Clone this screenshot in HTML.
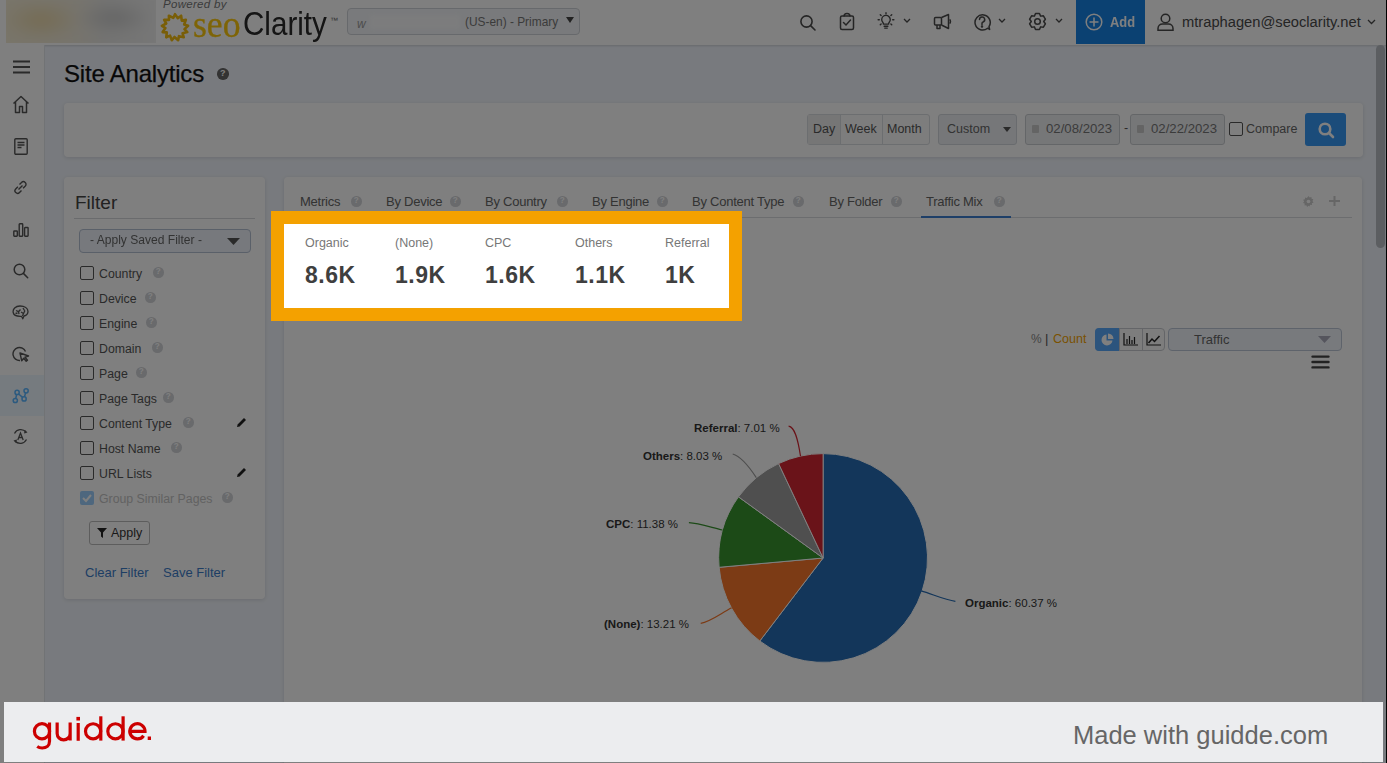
<!DOCTYPE html>
<html><head><meta charset="utf-8">
<style>
*{box-sizing:border-box;margin:0;padding:0}
html,body{width:1387px;height:763px;overflow:hidden;background:#f1f5fc;font-family:"Liberation Sans",sans-serif;position:relative}
.a{position:absolute}
.t{position:absolute;white-space:nowrap;line-height:1}
#hdr{left:0;top:0;width:1387px;height:45px;background:#fff;box-shadow:0 1px 2px rgba(0,0,0,.15)}
#side{left:0;top:45px;width:45px;height:718px;background:#fff;border-right:1px solid #e3e6ea}
.card{position:absolute;background:#fff;border-radius:4px;box-shadow:0 1px 4px rgba(0,0,0,.12)}
#ov{left:0;top:0;width:1387px;height:763px;background:rgba(0,0,0,.5)}
.hq{position:absolute;width:10px;height:10px;border-radius:50%;background:#c9cbcf;color:#fff;font-size:8px;font-weight:bold;text-align:center;line-height:10px}
.cb{position:absolute;width:14px;height:14px;border:1px solid #555;border-radius:2px;background:#fff}
.pl{font-size:11.5px;color:#333}
.fl{position:absolute;font-size:12.3px;color:#555;white-space:nowrap;line-height:1}
</style></head><body>
<!-- header -->
<div id="hdr" class="a"></div>
<div id="side" class="a"></div>

<div class="a" style="left:6px;top:0;width:150px;height:43px;overflow:hidden;background:#f4f4f2">
 <div class="a" style="left:-10px;top:-10px;width:170px;height:63px;filter:blur(6px);background:radial-gradient(ellipse 40px 20px at 45px 30px,#ead7a6,transparent),radial-gradient(ellipse 38px 16px at 118px 28px,#cacaca,transparent),linear-gradient(90deg,#f2ead2,#eee8d8 45%,#e6e6e4 65%,#efefef)"></div>
</div>
<!-- powered by / seoClarity -->
<div class="t" style="left:163px;top:-1px;font-size:11.5px;font-style:italic;color:#777;letter-spacing:.3px">Powered by</div>
<svg class="a" style="left:159px;top:11px" width="32" height="33" viewBox="0 0 32 33"><path d="M16.00,3.20 L18.83,7.23 L22.13,4.71 L22.77,9.60 L26.86,8.90 L25.16,13.52 L29.10,14.81 L25.45,18.11 L28.34,21.08 L23.57,22.30 L24.75,26.28 L19.96,25.14 L19.16,29.22 L15.44,25.98 L12.84,29.22 L11.05,24.63 L7.25,26.28 L7.80,21.39 L3.66,21.08 L6.42,17.00 L2.90,14.81 L7.24,12.48 L5.14,8.90 L10.06,8.86 L9.87,4.71 L14.25,6.96z" fill="none" stroke="#f2bc10" stroke-width="2.6" stroke-linejoin="round"/></svg>
<div class="t" style="left:193px;top:6px;font-size:37.5px;font-family:'Liberation Serif',serif;color:#fcc80c;-webkit-text-stroke:.3px #fcc80c;transform:scaleX(.95);transform-origin:0 0">seo</div>
<div class="t" style="left:243px;top:6px;font-size:34px;color:#2a2a2a;transform:scaleX(.87);transform-origin:0 0">Clarity</div>
<div class="t" style="left:330px;top:17px;font-size:8px;color:#666">&#8482;</div>
<!-- domain dropdown -->
<div class="a" style="left:347px;top:8px;width:233px;height:27px;border:1px solid #cfd3d8;border-radius:4px;background:#f3f5f8"></div>
<div class="t" style="left:357px;top:18px;font-size:12px;font-style:italic;color:#999">w</div>
<div class="a" style="left:370px;top:15px;width:90px;height:14px;background:#f8f9fb;filter:blur(2px)"></div>
<div class="t" style="left:465px;top:17px;font-size:11.9px;color:#777">(US-en) - Primary</div>
<svg class="a" style="left:566px;top:17px" width="8" height="6"><polygon points="0,0 8,0 4,6" fill="#444"/></svg>
<!-- header icons -->
<svg class="a" style="left:799px;top:14px" width="18" height="18" viewBox="0 0 18 18" fill="none" stroke="#4a4a4a" stroke-width="1.6"><circle cx="7.5" cy="7.5" r="5.6"/><path d="M11.6 11.6L16 16" stroke-linecap="round"/></svg>
<svg class="a" style="left:839px;top:12px" width="16" height="19" viewBox="0 0 16 19" fill="none" stroke="#4a4a4a" stroke-width="1.5"><rect x="1.5" y="4" width="13" height="13.5" rx="1.5"/><path d="M5 4.5c0-2 1.5-3 3-3s3 1 3 3" /><path d="M4.5 10.5l2.5 2.5 4.5-5" stroke-linecap="round"/></svg>
<svg class="a" style="left:877px;top:12px" width="18" height="18" viewBox="0 0 21 21" fill="none" stroke="#4a4a4a" stroke-width="1.6" stroke-linecap="round"><path d="M7.6 14.2c0-1.8-2.1-2.9-2.1-5.2a5 5 0 0 1 10 0c0 2.3-2.1 3.4-2.1 5.2z"/><path d="M8.3 16.6h4.4M9 18.8h3"/><path d="M10.5 .8v1.4M3.8 3.2l1 1M17.2 3.2l-1 1M1.3 9h1.4M18.3 9h1.4M3.8 15l1-1M17.2 15l-1-1"/></svg>
<svg class="a" style="left:903px;top:18px" width="8" height="6" viewBox="0 0 8 6" fill="none" stroke="#4a4a4a" stroke-width="1.3"><path d="M1 1l3 3 3-3"/></svg>
<svg class="a" style="left:933px;top:13px" width="21" height="18" viewBox="0 0 21 18" fill="none" stroke="#4a4a4a" stroke-width="1.5" stroke-linejoin="round"><rect x="1.5" y="4.5" width="7" height="7.5" rx="1"/><path d="M8.5 4.5L15.5 1.5v14L8.5 12"/><path d="M16.5 6.5c1.3.6 1.3 3.4 0 4"/><path d="M4 12v3.5h3V12"/></svg>
<svg class="a" style="left:973px;top:13px" width="19" height="18" viewBox="0 0 19 18" fill="none" stroke="#4a4a4a" stroke-width="1.5"><path d="M14.6 15.2A7.6 7.6 0 1 1 16 13.6L16.6 16.4z" stroke-linejoin="round"/><path d="M6.5 6.6a2.6 2.6 0 1 1 3.6 2.4c-.8.3-1.1.8-1.1 1.6v.8" stroke-linecap="round"/><circle cx="9" cy="13.6" r=".5" fill="#4a4a4a"/></svg>
<svg class="a" style="left:998px;top:18px" width="8" height="6" viewBox="0 0 8 6" fill="none" stroke="#4a4a4a" stroke-width="1.3"><path d="M1 1l3 3 3-3"/></svg>
<svg class="a" style="left:1028px;top:11.5px" width="19" height="19" viewBox="0 0 19 19" fill="none" stroke="#4a4a4a" stroke-width="1.5" stroke-linejoin="round"><path d="M6.40,4.13 L7.52,1.54 L11.48,1.54 L12.60,4.13 L15.40,3.80 L17.38,7.24 L15.70,9.50 L17.38,11.76 L15.40,15.20 L12.60,14.87 L11.48,17.46 L7.52,17.46 L6.40,14.87 L3.60,15.20 L1.62,11.76 L3.30,9.50 L1.62,7.24 L3.60,3.80z"/><circle cx="9.5" cy="9.5" r="2.8"/></svg>
<svg class="a" style="left:1055px;top:18px" width="8" height="6" viewBox="0 0 8 6" fill="none" stroke="#4a4a4a" stroke-width="1.3"><path d="M1 1l3 3 3-3"/></svg>
<div class="a" style="left:1076px;top:0;width:69px;height:44px;background:#1782e4"></div>
<svg class="a" style="left:1085px;top:13px" width="18" height="18" viewBox="0 0 18 18" fill="none" stroke="#fff" stroke-width="1.5"><circle cx="9" cy="9" r="7.8"/><path d="M9 4.5v9M4.5 9h9"/></svg>
<div class="t" style="left:1110px;top:15px;font-size:14px;font-weight:bold;color:#fff;transform:scaleX(.92);transform-origin:0 0">Add</div>
<svg class="a" style="left:1157px;top:13px" width="17" height="18" viewBox="0 0 17 18" fill="none" stroke="#4a4a4a" stroke-width="1.5"><circle cx="8.5" cy="5.5" r="4.3"/><path d="M1 17.2v-1.7c0-2.6 2-4.5 4.5-4.5h6c2.5 0 4.5 1.9 4.5 4.5v1.7z"/></svg>
<div class="t" style="left:1182px;top:14.5px;font-size:14.7px;color:#4a4a4a">mtraphagen@seoclarity.net</div>
<svg class="a" style="left:1367px;top:19px" width="9" height="6" viewBox="0 0 9 6" fill="none" stroke="#4a4a4a" stroke-width="1.3"><path d="M1 1l3.5 3.5L8 1"/></svg>


<!-- sidebar icons -->
<svg class="a" style="left:13px;top:60px" width="17" height="14" viewBox="0 0 17 14"><path d="M0 1.5h17M0 7h17M0 12.5h17" stroke="#555" stroke-width="2.2"/></svg>
<svg class="a" style="left:12px;top:95px" width="18" height="19" viewBox="0 0 18 19" fill="none" stroke="#555" stroke-width="1.5" stroke-linejoin="round"><path d="M1.5 8.5L9 1.5l7.5 7M3.5 7v10.5h4v-6h3v6h4V7"/></svg>
<svg class="a" style="left:14px;top:138px" width="14" height="17" viewBox="0 0 14 17" fill="none" stroke="#555" stroke-width="1.4"><rect x=".8" y=".8" width="12.4" height="15.4" rx="1"/><path d="M3.5 4.5h7M3.5 7h7M3.5 9.5h4"/></svg>
<svg class="a" style="left:13px;top:180px" width="15" height="15" viewBox="0 0 15 15" fill="none" stroke="#555" stroke-width="1.4"><path d="M6.5 4.5l2-2a2.5 2.5 0 0 1 3.8 3.6l-2.2 2.2M8.5 10.5l-2 2a2.5 2.5 0 0 1-3.8-3.6l2.2-2.2M5.5 9.5l4-4"/></svg>
<svg class="a" style="left:13px;top:223px" width="16" height="14" viewBox="0 0 16 14" fill="none" stroke="#555" stroke-width="1.4"><rect x=".8" y="8" width="3.5" height="5.2" rx=".6"/><rect x="6.2" y=".8" width="3.5" height="12.4" rx=".6"/><rect x="11.6" y="4.5" width="3.5" height="8.7" rx=".6"/></svg>
<svg class="a" style="left:13px;top:263px" width="16" height="16" viewBox="0 0 16 16" fill="none" stroke="#555" stroke-width="1.5"><circle cx="6.5" cy="6.5" r="5.3"/><path d="M10.4 10.4l4.3 4.3" stroke-linecap="round"/></svg>
<svg class="a" style="left:12px;top:305px" width="17" height="15" viewBox="0 0 17 15" fill="none" stroke="#555" stroke-width="1.3" stroke-linejoin="round"><path d="M1.2 7.5C.5 4 3.5 1 8 1s8 2 8 5.5c0 2.5-2 4-4 4.5l-1.2 2.8-1.3-2.5C6 11.5 1.8 10.5 1.2 7.5z"/><path d="M4 5.5l2.5 1.2L8.5 4.5M6.5 6.7l.5 2.5M9 7l2.5 1.5 1.5-3M11.5 8.5l-1 2.5M3.5 8.5l2-.5M11 3l1.5 2.5"/></svg>
<svg class="a" style="left:12px;top:346px" width="18" height="17" viewBox="0 0 18 17" fill="none" stroke="#555" stroke-width="1.4"><path d="M13.5 5.5A6.5 6.5 0 1 0 8 14.5"/><path d="M8 7l8.5 3-3.5 1.2 2.5 3-1.3 1.1-2.5-3-2 2.5z" stroke-linejoin="round"/></svg>
<div class="a" style="left:0;top:375px;width:44px;height:41px;background:#ecf6ff"></div>
<svg class="a" style="left:11px;top:387px" width="20" height="17" viewBox="11 387 20 17" fill="none" stroke="#58b4ff" stroke-width="1.5"><circle cx="15.3" cy="400.5" r="2.1"/><circle cx="17.1" cy="392.4" r="2.1"/><circle cx="24.1" cy="398.9" r="2.1"/><circle cx="26.1" cy="390.8" r="2.1"/><path d="M15.8 398.4l.8-3.9M18.6 394l4 3.3M24.5 396.8l1.1-3.9"/></svg>
<svg class="a" style="left:12px;top:428px" width="17" height="17" viewBox="0 0 17 17" fill="none" stroke="#555" stroke-width="1.3"><path d="M2.5 5.5A7 7 0 0 1 14 4M14.5 11.5A7 7 0 0 1 3 13"/><path d="M12.5 2.5l1.8 1.7-2.2.8M4.5 14.5l-1.8-1.7 2.2-.8"/><path d="M5.8 12l2.7-7 2.7 7M6.8 9.5h3.4"/></svg>

<!-- title -->
<div class="t" style="left:64px;top:62px;font-size:24px;letter-spacing:-.2px;-webkit-text-stroke:.25px #111;color:#111">Site Analytics</div><div class="hq" style="left:217px;top:68px;width:11.5px;height:11.5px;line-height:11.5px;font-size:9.0px;background:#666">?</div>

<!-- toolbar card -->
<div class="card" style="left:64px;top:103px;width:1299px;height:54px"></div>
<!-- toolbar -->
<div class="a" style="left:807px;top:114px;width:123px;height:31px;border:1px solid #d9dce0;border-radius:3px;background:#fafafa"></div><div class="a" style="left:808px;top:115px;width:32px;height:29px;background:#ececec"></div>
<div class="a" style="left:840px;top:114px;width:1px;height:31px;background:#d9dce0"></div>
<div class="a" style="left:882px;top:114px;width:1px;height:31px;background:#d9dce0"></div>
<div class="t" style="left:813px;top:123px;font-size:12.5px;color:#555">Day</div>
<div class="t" style="left:845px;top:123px;font-size:12.5px;color:#555">Week</div>
<div class="t" style="left:887px;top:123px;font-size:12.5px;color:#555">Month</div>
<div class="a" style="left:938px;top:114px;width:79px;height:31px;border:1px solid #d3d7dc;border-radius:3px;background:#eceff3"></div>
<div class="t" style="left:947px;top:123px;font-size:12.5px;color:#666">Custom</div>
<svg class="a" style="left:1003px;top:127px" width="8" height="5"><polygon points="0,0 8,0 4,5" fill="#555"/></svg>
<div class="a" style="left:1025px;top:114px;width:95px;height:31px;border:1px solid #c9ccd1;border-radius:3px;background:#eceef1"></div>
<div class="a" style="left:1032px;top:125px;width:7px;height:8px;border-radius:1px;background:#c8c8c8"></div>
<div class="t" style="left:1046px;top:122px;font-size:13.2px;color:#777">02/08/2023</div>
<div class="t" style="left:1124px;top:122px;font-size:12.5px;color:#555">-</div>
<div class="a" style="left:1130px;top:114px;width:95px;height:31px;border:1px solid #c9ccd1;border-radius:3px;background:#eceef1"></div>
<div class="a" style="left:1137px;top:125px;width:7px;height:8px;border-radius:1px;background:#c8c8c8"></div>
<div class="t" style="left:1151px;top:122px;font-size:13.2px;color:#777">02/22/2023</div>
<div class="a" style="left:1229px;top:122px;width:14px;height:14px;border:1px solid #555;border-radius:2px;background:#fff"></div>
<div class="t" style="left:1246px;top:123px;font-size:12.5px;color:#666">Compare</div>
<div class="a" style="left:1305px;top:113px;width:41px;height:33px;border-radius:3px;background:#3698f4"></div>
<svg class="a" style="left:1317px;top:121px" width="18" height="18" viewBox="0 0 18 18" fill="none" stroke="#fff" stroke-width="2.6"><circle cx="8" cy="8" r="5.3"/><path d="M12 12l4 4" stroke-linecap="round"/></svg>


<!-- filter card -->
<div class="card" style="left:64px;top:177px;width:201px;height:422px"></div>
<!-- filter -->
<div class="t" style="left:75px;top:193px;font-size:19px;color:#444">Filter</div>
<div class="a" style="left:74px;top:218px;width:181px;height:1px;background:#d4d6da"></div>
<div class="a" style="left:79px;top:229px;width:172px;height:24px;border:1px solid #b4c0d2;border-radius:4px;background:#eef3fb"></div>
<div class="t" style="left:90px;top:234px;font-size:12.5px;color:#666;transform:scaleX(.965);transform-origin:0 0">- Apply Saved Filter -</div>
<svg class="a" style="left:227px;top:238px" width="13" height="7"><polygon points="0,0 13,0 6.5,7" fill="#555"/></svg>
<div class="cb" style="left:80px;top:266px"></div><div class="fl" style="left:99px;top:268px">Country</div><div class="hq" style="left:153px;top:267px;width:10.5px;height:10.5px;line-height:10.5px;font-size:8.2px;background:#d2d4d8">?</div>
<div class="cb" style="left:80px;top:291px"></div><div class="fl" style="left:99px;top:293px">Device</div><div class="hq" style="left:145px;top:292px;width:10.5px;height:10.5px;line-height:10.5px;font-size:8.2px;background:#d2d4d8">?</div>
<div class="cb" style="left:80px;top:316px"></div><div class="fl" style="left:99px;top:318px">Engine</div><div class="hq" style="left:146px;top:317px;width:10.5px;height:10.5px;line-height:10.5px;font-size:8.2px;background:#d2d4d8">?</div>
<div class="cb" style="left:80px;top:341px"></div><div class="fl" style="left:99px;top:343px">Domain</div><div class="hq" style="left:152px;top:342px;width:10.5px;height:10.5px;line-height:10.5px;font-size:8.2px;background:#d2d4d8">?</div>
<div class="cb" style="left:80px;top:366px"></div><div class="fl" style="left:99px;top:368px">Page</div><div class="hq" style="left:136px;top:367px;width:10.5px;height:10.5px;line-height:10.5px;font-size:8.2px;background:#d2d4d8">?</div>
<div class="cb" style="left:80px;top:391px"></div><div class="fl" style="left:99px;top:393px">Page Tags</div><div class="hq" style="left:163px;top:392px;width:10.5px;height:10.5px;line-height:10.5px;font-size:8.2px;background:#d2d4d8">?</div>
<div class="cb" style="left:80px;top:416px"></div><div class="fl" style="left:99px;top:418px">Content Type</div><div class="hq" style="left:183px;top:417px;width:10.5px;height:10.5px;line-height:10.5px;font-size:8.2px;background:#d2d4d8">?</div><svg class="a" style="left:236px;top:417px" width="11" height="11" viewBox="0 0 11 11"><path d="M1 10l.6-2.6L8 1l2 2-6.4 6.4z" fill="#222"/></svg>
<div class="cb" style="left:80px;top:441px"></div><div class="fl" style="left:99px;top:443px">Host Name</div><div class="hq" style="left:171px;top:442px;width:10.5px;height:10.5px;line-height:10.5px;font-size:8.2px;background:#d2d4d8">?</div>
<div class="cb" style="left:80px;top:466px"></div><div class="fl" style="left:99px;top:468px">URL Lists</div><svg class="a" style="left:236px;top:467px" width="11" height="11" viewBox="0 0 11 11"><path d="M1 10l.6-2.6L8 1l2 2-6.4 6.4z" fill="#222"/></svg>
<div class="a" style="left:80px;top:491px;width:14px;height:14px;border-radius:2px;background:#9ccffc"></div><svg class="a" style="left:82px;top:493px" width="10" height="10" viewBox="0 0 10 10" fill="none" stroke="#fff" stroke-width="2"><path d="M1 5l3 3 5-6"/></svg><div class="fl" style="left:99px;top:493px;color:#c4c4c4">Group Similar Pages</div><div class="hq" style="left:222px;top:492px;width:10.5px;height:10.5px;line-height:10.5px;font-size:8.2px;background:#d2d4d8">?</div>

<div class="a" style="left:89px;top:521px;width:61px;height:24px;border:1px solid #bbb;border-radius:3px;background:#fff"></div>
<svg class="a" style="left:97px;top:528px" width="10" height="10" viewBox="0 0 10 10"><path d="M0 0h10L6 4.5V10L4 8.5V4.5z" fill="#222"/></svg>
<div class="t" style="left:111px;top:527px;font-size:12.5px;color:#333">Apply</div>
<div class="t" style="left:85px;top:566px;font-size:13px;color:#3d7cc9">Clear Filter</div>
<div class="t" style="left:163px;top:566px;font-size:13px;color:#3d7cc9">Save Filter</div>


<!-- main card -->
<div class="card" style="left:284px;top:177px;width:1078px;height:600px"></div>
<!-- tabs -->
<div class="a" style="left:299px;top:217px;width:1053px;height:1px;background:#d8dade"></div>
<div class="t" style="left:300px;top:195px;font-size:13px;letter-spacing:-.25px;color:#666">Metrics</div><div class="hq" style="left:351px;top:196px;width:10.5px;height:10.5px;line-height:10.5px;font-size:8.2px;background:#d2d4d8">?</div>
<div class="t" style="left:386px;top:195px;font-size:13px;letter-spacing:-.25px;color:#666">By Device</div><div class="hq" style="left:450px;top:196px;width:10.5px;height:10.5px;line-height:10.5px;font-size:8.2px;background:#d2d4d8">?</div>
<div class="t" style="left:485px;top:195px;font-size:13px;letter-spacing:-.25px;color:#666">By Country</div><div class="hq" style="left:557px;top:196px;width:10.5px;height:10.5px;line-height:10.5px;font-size:8.2px;background:#d2d4d8">?</div>
<div class="t" style="left:592px;top:195px;font-size:13px;letter-spacing:-.25px;color:#666">By Engine</div><div class="hq" style="left:657px;top:196px;width:10.5px;height:10.5px;line-height:10.5px;font-size:8.2px;background:#d2d4d8">?</div>
<div class="t" style="left:692px;top:195px;font-size:13px;letter-spacing:-.25px;color:#666">By Content Type</div><div class="hq" style="left:793px;top:196px;width:10.5px;height:10.5px;line-height:10.5px;font-size:8.2px;background:#d2d4d8">?</div>
<div class="t" style="left:829px;top:195px;font-size:13px;letter-spacing:-.25px;color:#666">By Folder</div><div class="hq" style="left:891px;top:196px;width:10.5px;height:10.5px;line-height:10.5px;font-size:8.2px;background:#d2d4d8">?</div>
<div class="t" style="left:926px;top:195px;font-size:13px;letter-spacing:-.25px;color:#666">Traffic Mix</div><div class="hq" style="left:994px;top:196px;width:10.5px;height:10.5px;line-height:10.5px;font-size:8.2px;background:#d2d4d8">?</div>
<div class="a" style="left:921px;top:216px;width:90px;height:2px;background:#3c7fd0"></div>
<svg class="a" style="left:1303px;top:196px" width="11" height="11" viewBox="0 0 24 24"><path d="M12 0l2.5 3.2 3.9-1.1.3 4 3.9 1.2-2 3.5 2.4 3.2-3.7 1.6.4 4-4-.4-1.6 3.7L12 21.5 8.9 23.9 7.3 20.2l-4 .4.4-4L0 15l2.4-3.2-2-3.5 3.9-1.2.3-4 3.9 1.1z" fill="#ccc"/><circle cx="12" cy="12" r="4" fill="#fff"/></svg>
<svg class="a" style="left:1329px;top:196px" width="11" height="10" viewBox="0 0 11 10"><path d="M5.5 0v10M0 5h11" stroke="#ccc" stroke-width="2"/></svg>

<!-- chart controls -->
<div class="t" style="left:1031px;top:333px;font-size:12px;color:#888">%</div>
<div class="t" style="left:1045px;top:332px;font-size:13px;color:#555">|</div>
<div class="t" style="left:1053px;top:333px;font-size:12.5px;color:#f5a300">Count</div>
<div class="a" style="left:1095px;top:328px;width:70px;height:23px;border:1px solid #c8cbd0;border-radius:4px;background:#fafafa"></div>
<div class="a" style="left:1095px;top:328px;width:24px;height:23px;border-radius:4px 0 0 4px;background:#58a8fa"></div>
<div class="a" style="left:1142px;top:329px;width:1px;height:21px;background:#c8cbd0"></div>
<div class="a" style="left:1119px;top:329px;width:1px;height:21px;background:#c8cbd0"></div>
<svg class="a" style="left:1100px;top:333px" width="14" height="14" viewBox="0 0 14 14"><path d="M6.5 1.5A5.5 5.5 0 1 0 12.5 7.5H6.5z" fill="#fff"/><path d="M8 0.5A5.5 5.5 0 0 1 13.5 6H8z" fill="#fff"/></svg>
<svg class="a" style="left:1123px;top:333px" width="15" height="13" viewBox="0 0 15 13" fill="none" stroke="#222" stroke-width="1.2"><path d="M1 0v12h14M4 11V6M6.5 11V3M9 11V7M11.5 11V4"/></svg>
<svg class="a" style="left:1146px;top:333px" width="15" height="13" viewBox="0 0 15 13" fill="none" stroke="#222" stroke-width="1.2"><path d="M1 0v12h14"/><path d="M2.5 10l3.5-4 2.5 2.5 5-5.5" stroke-width="1.5"/></svg>
<div class="a" style="left:1168px;top:328px;width:174px;height:23px;border:1px solid #bcc6d6;border-radius:4px;background:#f0f4fb"></div>
<div class="t" style="left:1194px;top:333px;font-size:13px;color:#666">Traffic</div>
<svg class="a" style="left:1318px;top:336px" width="13" height="7"><polygon points="0,0 13,0 6.5,7" fill="#aab"/></svg>
<svg class="a" style="left:1311px;top:355px" width="19" height="14" viewBox="0 0 19 14"><path d="M1.5 1.6h16M1.5 7h16M1.5 12.4h16" stroke="#444" stroke-width="2.4" stroke-linecap="round"/></svg>



<!-- pie -->
<svg class="a" style="left:0;top:0" width="1387" height="763" viewBox="0 0 1387 763">
<path d="M823.1,558.0L823.10,453.60A104.4,104.4 0 1 1 759.79,641.01z" fill="#266cb4" stroke="#fff" stroke-width="1"/>
<path d="M823.1,558.0L759.79,641.01A104.4,104.4 0 0 1 719.12,567.30z" fill="#f8762a" stroke="#fff" stroke-width="1"/>
<path d="M823.1,558.0L719.12,567.30A104.4,104.4 0 0 1 738.48,496.85z" fill="#38942e" stroke="#fff" stroke-width="1"/>
<path d="M823.1,558.0L738.48,496.85A104.4,104.4 0 0 1 778.59,463.56z" fill="#9e9e9e" stroke="#fff" stroke-width="1"/>
<path d="M823.1,558.0L778.59,463.56A104.4,104.4 0 0 1 823.10,453.60z" fill="#d42632" stroke="#fff" stroke-width="1"/>
<g fill="none" stroke-width="1.2">
<path d="M788.6,426.2C795,427 798,440 800.5,456" stroke="#d42632"/>
<path d="M732.7,454C740,456 748,465 756.3,477.6" stroke="#9e9e9e"/>
<path d="M688.9,522.6C698,523 710,527 722.4,530" stroke="#38942e"/>
<path d="M700.7,623.3C710,622 720,614 731.6,607.8" stroke="#f8762a"/>
<path d="M921.2,590.9C932,594 945,600 955.4,601.3" stroke="#266cb4"/>
</g>
</svg>
<div class="t pl" style="left:694px;top:423px"><b>Referral</b>: 7.01 %</div>
<div class="t pl" style="left:643px;top:451px"><b>Others</b>: 8.03 %</div>
<div class="t pl" style="left:606px;top:519px"><b>CPC</b>: 11.38 %</div>
<div class="t pl" style="left:604px;top:619px"><b>(None)</b>: 13.21 %</div>
<div class="t pl" style="left:965px;top:598px"><b>Organic</b>: 60.37 %</div>

<div class="a" style="left:1376px;top:45px;width:9px;height:203px;border-radius:5px;background:#b8bcc3"></div>
<div id="ov" class="a"></div>

<!-- highlight -->
<div class="a" style="left:271px;top:211px;width:471px;height:110px;background:#f4a100"></div>
<div class="a" style="left:284px;top:224px;width:445px;height:84px;background:#fff"></div>
<div class="t" style="left:305px;top:237px;font-size:12.5px;color:#777">Organic</div>
<div class="t" style="left:395px;top:237px;font-size:12.5px;color:#777">(None)</div>
<div class="t" style="left:485px;top:237px;font-size:12.5px;color:#777">CPC</div>
<div class="t" style="left:575px;top:237px;font-size:12.5px;color:#777">Others</div>
<div class="t" style="left:665px;top:237px;font-size:12.5px;color:#777">Referral</div>
<div class="t" style="left:305px;top:264px;font-size:23px;font-weight:bold;letter-spacing:.5px;color:#3f3f3f">8.6K</div>
<div class="t" style="left:395px;top:264px;font-size:23px;font-weight:bold;letter-spacing:.5px;color:#3f3f3f">1.9K</div>
<div class="t" style="left:485px;top:264px;font-size:23px;font-weight:bold;letter-spacing:.5px;color:#3f3f3f">1.6K</div>
<div class="t" style="left:575px;top:264px;font-size:23px;font-weight:bold;letter-spacing:.5px;color:#3f3f3f">1.1K</div>
<div class="t" style="left:665px;top:264px;font-size:23px;font-weight:bold;letter-spacing:.5px;color:#3f3f3f">1K</div>


<!-- footer -->
<div class="a" style="left:4px;top:702px;width:1379px;height:60px;background:#ecedef"></div>
<svg class="a" style="left:0;top:700px" width="170" height="63" viewBox="0 700 170 63" fill="none" stroke="#cc0000" stroke-width="3.2">
<circle cx="42" cy="731.2" r="7.6"/><path d="M49.5,722.4V741.2C49.5,745.6 46.3,748 42.2,748C40.2,748 38.6,747.5 37.2,746.5"/>
<path d="M57.15,722.6V733.4A6.5,6.5 0 0 0 70.15,733.4M70.15,722.6V740.6"/>
<path d="M78.2,723V740.8"/><rect x="76.4" y="716.9" width="3.6" height="3.6" fill="#cc0000" stroke="none"/>
<circle cx="93.1" cy="731.35" r="7.6"/><path d="M100.8,716.3V740.6"/>
<circle cx="115.4" cy="731.35" r="7.6"/><path d="M123.1,716.3V740.6"/>
<path d="M129.8,731.35H145A7.6,7.6 0 1 0 143.6,735.7"/>
<rect x="147.7" y="736.5" width="3.3" height="3.5" fill="#cc0000" stroke="none"/>
</svg>
<div class="t" style="left:1073px;top:723px;font-size:25.5px;color:#666">Made with guidde.com</div>
<div class="a" style="left:1386px;top:0;width:1px;height:763px;background:#000"></div>
</body></html>
